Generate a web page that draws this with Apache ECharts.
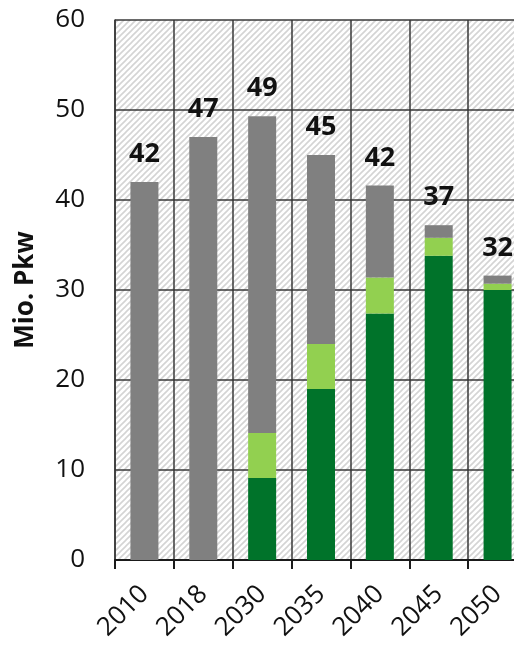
<!DOCTYPE html>
<html>
<head>
<meta charset="utf-8">
<script src="https://cdn.jsdelivr.net/npm/echarts@6/dist/echarts.min.js"></script>
<style>
  html, body { margin: 0; padding: 0; background: #fff; overflow: hidden; }
  /* the last category runs past the right edge of the window */
  #chart { width: 527px; height: 651px; }
</style>
</head>
<body>
<div id="chart"></div>
<script>
// Passenger car fleet (million cars) by year, stacked by drivetrain
const years = ['2010', '2018', '2030', '2035', '2040', '2045', '2050'];
const electric = [0, 0, 9.1, 19.0, 27.4, 33.8, 30.0];
const hybrid = [0, 0, 5.0, 5.0, 4.0, 2.0, 0.7];
const combustion = [42.0, 47.0, 35.2, 21.0, 10.2, 1.4, 0.9];
const yTicks = [0, 10, 20, 30, 40, 50, 60];

// Fleet totals shown above each stack
const totals = years.map((_, i) => electric[i] + hybrid[i] + combustion[i]);

// Diagonal hatch tile for the plot background
function hatchTile() {
  const size = 6;
  const c = document.createElement('canvas');
  c.width = size; c.height = size;
  const g = c.getContext('2d');
  g.fillStyle = '#ffffff';
  g.fillRect(0, 0, size, size);
  g.strokeStyle = '#d4d4d4';
  g.lineWidth = 1.6;
  g.beginPath();
  g.moveTo(-1, size + 1); g.lineTo(size + 1, -1);
  g.moveTo(-1, 1); g.lineTo(1, -1);
  g.moveTo(size - 1, size + 1); g.lineTo(size + 1, size - 1);
  g.stroke();
  return c;
}

const font = '"Open Sans", "DejaVu Sans", sans-serif';
const chart = echarts.init(document.getElementById('chart'), null, { renderer: 'canvas' });

chart.setOption({
  animation: false,
  backgroundColor: '#ffffff',
  grid: {
    left: 115, top: 20, bottom: 91, right: 0,
    containLabel: false,
    outerBoundsMode: 'none',
    show: true,
    borderWidth: 0,
    backgroundColor: { image: hatchTile(), repeat: 'repeat' }
  },
  xAxis: {
    type: 'category',
    data: years,
    boundaryGap: true,
    axisLine: { show: true, lineStyle: { color: '#1a1a1a', width: 2 } },
    axisTick: { show: true, length: 9, alignWithLabel: false, lineStyle: { color: '#1a1a1a', width: 2 } },
    splitLine: { show: true, interval: 0, lineStyle: { color: '#383838', width: 1.5 } },
    axisLabel: {
      rotate: 45, interval: 0, margin: 30,
      fontFamily: font, fontSize: 26, color: '#111'
    }
  },
  yAxis: {
    type: 'value',
    min: yTicks[0], max: yTicks[yTicks.length - 1], interval: 10,
    name: 'Mio. Pkw',
    nameLocation: 'middle',
    nameRotate: 90,
    nameGap: 76,
    nameTextStyle: { fontFamily: font, fontSize: 26, fontWeight: 'bold', color: '#111' },
    axisLine: { show: true, lineStyle: { color: '#383838', width: 1.5 } },
    axisTick: { show: false },
    splitLine: { show: true, lineStyle: { color: '#383838', width: 1.5 } },
    axisLabel: { margin: 30, fontFamily: font, fontSize: 26, color: '#111' }
  },
  series: [
    {
      name: 'electric', type: 'bar', stack: 'fleet', barWidth: 28,
      data: electric, itemStyle: { color: '#00732a' }
    },
    {
      name: 'hybrid', type: 'bar', stack: 'fleet', barWidth: 28,
      data: hybrid, itemStyle: { color: '#92d050' }
    },
    {
      name: 'combustion', type: 'bar', stack: 'fleet', barWidth: 28,
      data: combustion, itemStyle: { color: '#808080' },
      label: {
        show: true, position: 'top', distance: 14,
        fontFamily: font, fontSize: 27, fontWeight: 'bold', color: '#111',
        formatter: p => String(Math.round(totals[p.dataIndex]))
      }
    }
  ]
});
</script>
</body>
</html>
